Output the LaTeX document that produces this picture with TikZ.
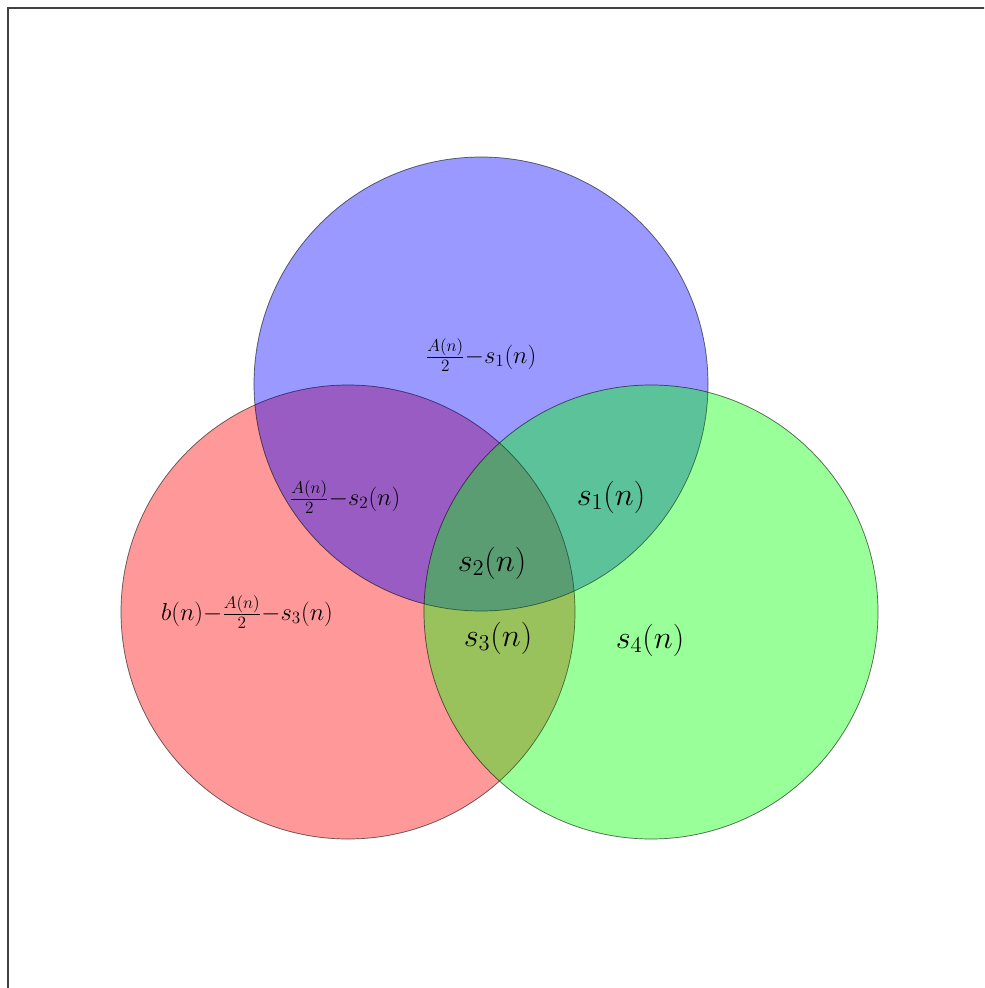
\RequirePackage{fix-cm}
\documentclass[tikz,border=0pt]{standalone}
\usepackage{amsmath}
\usepackage{tikz}
\usetikzlibrary{positioning}
\definecolor{vennred}{RGB}{255,0,0}
\definecolor{vennblue}{RGB}{0,0,255}
\definecolor{venngreen}{RGB}{0,255,0}
\tikzset{
  venn/.style   ={draw=black,draw opacity=0.35,line width=0.5pt,fill opacity=0.4},
  biglabel/.style={inner sep=0pt,font=\fontsize{23}{27}\selectfont},
  smalllabel/.style={inner sep=0pt,font=\fontsize{17.5}{21}\selectfont},
}

\begin{document}
\begin{tikzpicture}[x=0.25mm,y=-0.25mm]
  \clip (0,0) rectangle (984,988);
  \draw[black!75,line width=0.8pt] (8,8) rectangle (1100,1100);
  \def\rad{56.75mm}
  % the three sets
  \fill[venn,fill=vennred]   (348,612) circle[radius=\rad];
  \fill[venn,fill=vennblue]  (481,384) circle[radius=\rad];
  \fill[venn,fill=venngreen] (651,612) circle[radius=\rad];
  \draw[venn] (348,612) circle[radius=\rad];
  \draw[venn] (481,384) circle[radius=\rad];
  \draw[venn] (651,612) circle[radius=\rad];
  % region labels
  \node[smalllabel] (top)   at (481,355) {$\frac{A(n)}{2}{-}s_1(n)$};
  \node[smalllabel] (rb)    at (345,497) {$\frac{A(n)}{2}{-}s_2(n)$};
  \node[smalllabel] (left)  at (247,612) {$b(n){-}\frac{A(n)}{2}{-}s_3(n)$};
  \node[biglabel]   (sone)  at (611,497) {$s_1(n)$};
  \node[biglabel]   (stwo)  at (492,563) {$s_2(n)$};
  \node[biglabel]   (sthr)  at (498,638) {$s_3(n)$};
  \node[biglabel]   (sfour) at (650,640) {$s_4(n)$};
\end{tikzpicture}
\end{document}
